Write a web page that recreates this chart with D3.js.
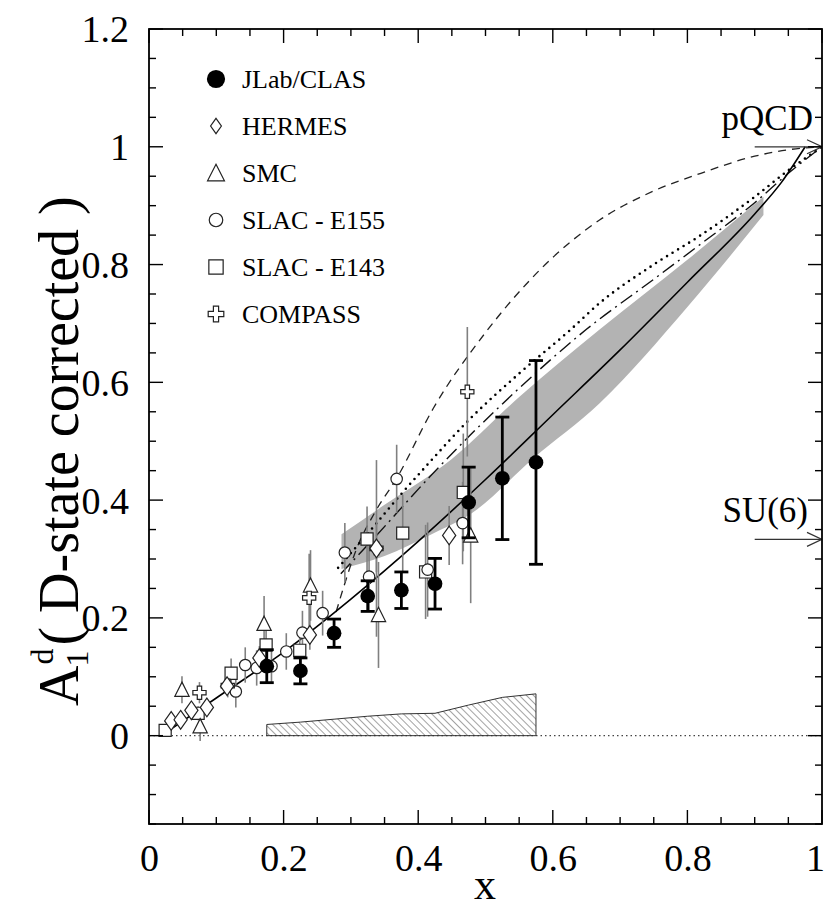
<!DOCTYPE html>
<html>
<head>
<meta charset="utf-8">
<script src="https://cdn.jsdelivr.net/npm/d3@7/dist/d3.min.js"></script>
<style>
  html, body { margin: 0; padding: 0; background: #fff; }
  svg text { font-family: "Liberation Serif", "DejaVu Serif", serif; fill: #000; }
</style>
</head>
<body>
<svg id="chart" width="826" height="912"></svg>
<script>
// ---- Data ----
// JLab/CLAS deuteron asymmetry (statistical errors and systematic band)
const clasX   = [0.175, 0.225, 0.275, 0.325, 0.375, 0.425, 0.475, 0.525, 0.575];
const clasY   = [0.118, 0.110, 0.174, 0.237, 0.247, 0.258, 0.396, 0.437, 0.464];
const clasErr = [0.028, 0.022, 0.024, 0.026, 0.031, 0.043, 0.060, 0.104, 0.173];
const clasSys = [0.019, 0.023, 0.028, 0.033, 0.037, 0.038, 0.052, 0.065, 0.071];

// World data
const hermesX   = [0.033, 0.047, 0.063, 0.086, 0.116, 0.164, 0.239, 0.338, 0.446];
const hermesY   = [0.025, 0.027, 0.043, 0.048, 0.084, 0.132, 0.171, 0.318, 0.340];
const hermesErr = [0.010, 0.010, 0.010, 0.012, 0.015, 0.020, 0.025, 0.040, 0.050];

const smcX   = [0.049, 0.076, 0.171, 0.240, 0.341, 0.478];
const smcY   = [0.078, 0.016, 0.190, 0.255, 0.205, 0.340];
const smcErr = [0.023, 0.025, 0.047, 0.060, 0.090, 0.115];

const e155X   = [0.129, 0.143, 0.160, 0.182, 0.204, 0.228, 0.258, 0.291, 0.327, 0.368, 0.414, 0.466];
const e155Y   = [0.075, 0.120, 0.115, 0.118, 0.143, 0.175, 0.208, 0.311, 0.270, 0.436, 0.282, 0.361];
const e155Err = [0.027, 0.030, 0.030, 0.030, 0.031, 0.037, 0.038, 0.050, 0.060, 0.058, 0.080, 0.070];

const e143X   = [0.024, 0.073, 0.122, 0.174, 0.224, 0.324, 0.377, 0.411, 0.467];
const e143Y   = [0.009, 0.038, 0.106, 0.154, 0.145, 0.334, 0.344, 0.278, 0.413];
const e143Err = [0.008, 0.012, 0.025, 0.040, 0.030, 0.055, 0.065, 0.080, 0.100];

const compassX   = [0.075, 0.117, 0.238, 0.338, 0.473];
const compassY   = [0.073, 0.085, 0.234, 0.318, 0.584];
const compassErr = [0.018, 0.020, 0.075, 0.150, 0.110];

// Fit to the data and its error band
const fitX = [0.025, 0.1, 0.2, 0.3, 0.4, 0.5, 0.6, 0.7, 0.8, 0.9, 0.94, 0.975];
const fitY = [0.005, 0.064, 0.142, 0.232, 0.33, 0.435, 0.545, 0.655, 0.77, 0.886, 0.94, 1.0];
const bandUpX = [0.286, 0.35, 0.45, 0.55, 0.67, 0.8, 0.913];
const bandUpY = [0.342, 0.392, 0.47, 0.575, 0.69, 0.808, 0.915];
const bandLoX = [0.286, 0.35, 0.42, 0.48, 0.57, 0.67, 0.8, 0.913];
const bandLoY = [0.283, 0.305, 0.342, 0.378, 0.47, 0.565, 0.728, 0.884];

// Model curves
const dashedX = [0.278, 0.29, 0.308, 0.335, 0.368, 0.4225, 0.499, 0.58, 0.67, 0.75, 0.82, 0.9, 0.95, 1.0];
const dashedY = [0.21, 0.255, 0.316, 0.378, 0.437, 0.556, 0.683, 0.79, 0.876, 0.925, 0.955, 0.984, 0.995, 1.0];
const dottedX = [0.281, 0.33, 0.373, 0.4175, 0.477, 0.55, 0.625, 0.67, 0.75, 0.82, 0.9, 0.95, 1.0];
const dottedY = [0.285, 0.35, 0.408, 0.465, 0.538, 0.615, 0.688, 0.735, 0.80, 0.85, 0.915, 0.96, 1.0];
const dashDotX = [0.285, 0.33, 0.4175, 0.477, 0.55, 0.65, 0.75, 0.82, 0.9, 0.95, 1.0];
const dashDotY = [0.275, 0.33, 0.44, 0.51, 0.59, 0.69, 0.775, 0.835, 0.905, 0.955, 1.0];

// Limits
const pqcdValue = 1.0;
const su6Value = 1 / 3;

// Axis ticks
const xTickLabels = ["0", "0.2", "0.4", "0.6", "0.8", "1"];
const xTickValues = [0, 0.2, 0.4, 0.6, 0.8, 1.0];
const yTickLabels = ["0", "0.2", "0.4", "0.6", "0.8", "1", "1.2"];
const yTickValues = [0, 0.2, 0.4, 0.6, 0.8, 1.0, 1.2];

// Legend
const legendNames = ["JLab/CLAS", "HERMES", "SMC", "SLAC - E155", "SLAC - E143", "COMPASS"];
const legendShapes = ["filled", "diamond", "triangle", "circle", "square", "cross"];

// ---- Layout ----
const svg = d3.select("#chart");
const plot = { left: 149, right: 822, top: 29, bottom: 824 };

const x = d3.scaleLinear().domain([0, 1]).range([plot.left, plot.right]);
const y = d3.scaleLinear().domain([-0.15, 1.2]).range([plot.bottom, plot.top]);

const zip = (xs, ys) => xs.map((v, i) => [v, ys[i]]);

// Hatch pattern for the systematic uncertainty
const defs = svg.append("defs");
defs.append("pattern")
  .attr("id", "hatch")
  .attr("patternUnits", "userSpaceOnUse")
  .attr("width", 5).attr("height", 5)
  .attr("patternTransform", "rotate(-45)")
  .append("line")
  .attr("x1", 0).attr("y1", 0).attr("x2", 0).attr("y2", 5)
  .attr("stroke", "#333").attr("stroke-width", 0.9);

defs.append("clipPath").attr("id", "plotClip")
  .append("rect")
  .attr("x", plot.left).attr("y", plot.top)
  .attr("width", plot.right - plot.left).attr("height", plot.bottom - plot.top);

const g = svg.append("g").attr("clip-path", "url(#plotClip)");

// Zero line
g.append("line")
  .attr("x1", x(0)).attr("x2", x(1)).attr("y1", y(0)).attr("y2", y(0))
  .attr("stroke", "#444").attr("stroke-width", 1.2).attr("stroke-dasharray", "1.5,3");

// Systematic band
const sysArea = d3.area().x(d => x(d[0])).y0(y(0)).y1(d => y(d[1]));
g.append("path")
  .datum(zip(clasX, clasSys))
  .attr("d", sysArea)
  .attr("fill", "url(#hatch)")
  .attr("stroke", "#333").attr("stroke-width", 1);

// Fit error band
const upper = zip(bandUpX, bandUpY);
const lower = zip(bandLoX, bandLoY).reverse();
const lineGen = d3.line().x(d => x(d[0])).y(d => y(d[1])).curve(d3.curveMonotoneX);
const bandPath = lineGen(upper) + "L" + lineGen(lower).slice(1) + "Z";
g.append("path").attr("d", bandPath).attr("fill", "#b3b3b3").attr("stroke", "none");

// Model curves
g.append("path").datum(zip(dashedX, dashedY)).attr("d", lineGen)
  .attr("fill", "none").attr("stroke", "#222").attr("stroke-width", 1.3)
  .attr("stroke-dasharray", "8,6");
g.append("path").datum(zip(dottedX, dottedY)).attr("d", lineGen)
  .attr("fill", "none").attr("stroke", "#000").attr("stroke-width", 2.6)
  .attr("stroke-linecap", "round").attr("stroke-dasharray", "0,6.5");
g.append("path").datum(zip(dashDotX, dashDotY)).attr("d", lineGen)
  .attr("fill", "none").attr("stroke", "#111").attr("stroke-width", 1.4)
  .attr("stroke-dasharray", "14,5,2,5");
g.append("path").datum(zip(fitX, fitY)).attr("d", lineGen)
  .attr("fill", "none").attr("stroke", "#000").attr("stroke-width", 1.6);

// Limit arrows
function limitArrow(val) {
  const yy = y(val);
  g.append("line").attr("x1", x(0.9)).attr("x2", x(1)).attr("y1", yy).attr("y2", yy)
    .attr("stroke", "#333").attr("stroke-width", 1.2);
  g.append("path")
    .attr("d", `M${x(1) - 15},${yy - 7}L${x(1)},${yy}L${x(1) - 15},${yy + 7}`)
    .attr("fill", "none").attr("stroke", "#333").attr("stroke-width", 1.2);
}
limitArrow(pqcdValue);
limitArrow(su6Value);

// Marker shapes
function markerPath(shape, s) {
  switch (shape) {
    case "diamond": {
      const w = s * 0.6, h = s * 0.85;
      return `M0,${-h}L${w},0L0,${h}L${-w},0Z`;
    }
    case "triangle": {
      const w = s * 0.65, h = s * 0.6;
      return `M0,${-h - 1}L${w},${h}L${-w},${h}Z`;
    }
    case "square": {
      const a = s * 0.55;
      return `M${-a},${-a}L${a},${-a}L${a},${a}L${-a},${a}Z`;
    }
    case "cross": {
      const a = s * 0.6, b = s * 0.2;
      return `M${-b},${-a}L${b},${-a}L${b},${-b}L${a},${-b}L${a},${b}L${b},${b}L${b},${a}L${-b},${a}L${-b},${b}L${-a},${b}L${-a},${-b}L${-b},${-b}Z`;
    }
  }
  return null;
}

function drawMarker(sel, shape, cx, cy, s) {
  if (shape === "filled") {
    sel.append("circle").attr("cx", cx).attr("cy", cy).attr("r", s * 0.7).attr("fill", "#000");
  } else if (shape === "circle") {
    sel.append("circle").attr("cx", cx).attr("cy", cy).attr("r", s * 0.52)
      .attr("fill", "#fff").attr("stroke", "#222").attr("stroke-width", 1.2);
  } else {
    sel.append("path").attr("d", markerPath(shape, s))
      .attr("transform", `translate(${cx},${cy})`)
      .attr("fill", "#fff").attr("stroke", "#222").attr("stroke-width", 1.2);
  }
}

// World data sets (open markers, thin grey error bars)
const worldSets = [
  { xs: e143X, ys: e143Y, es: e143Err, shape: "square" },
  { xs: e155X, ys: e155Y, es: e155Err, shape: "circle" },
  { xs: smcX, ys: smcY, es: smcErr, shape: "triangle" },
  { xs: compassX, ys: compassY, es: compassErr, shape: "cross" },
  { xs: hermesX, ys: hermesY, es: hermesErr, shape: "diamond" }
];

const errLayer = g.append("g");
const markLayer = g.append("g");
worldSets.forEach(set => {
  set.xs.forEach((xv, i) => {
    errLayer.append("line")
      .attr("x1", x(xv)).attr("x2", x(xv))
      .attr("y1", y(set.ys[i] - set.es[i])).attr("y2", y(set.ys[i] + set.es[i]))
      .attr("stroke", "#808080").attr("stroke-width", 1.6);
  });
});
worldSets.forEach(set => {
  set.xs.forEach((xv, i) => drawMarker(markLayer, set.shape, x(xv), y(set.ys[i]), 11));
});

// JLab/CLAS points with capped error bars
const clasLayer = g.append("g");
clasX.forEach((xv, i) => {
  const cx = x(xv);
  const yLo = y(clasY[i] - clasErr[i]), yHi = y(clasY[i] + clasErr[i]);
  clasLayer.append("line").attr("x1", cx).attr("x2", cx).attr("y1", yLo).attr("y2", yHi)
    .attr("stroke", "#000").attr("stroke-width", 2.8);
  [yLo, yHi].forEach(yy => clasLayer.append("line")
    .attr("x1", cx - 7).attr("x2", cx + 7).attr("y1", yy).attr("y2", yy)
    .attr("stroke", "#000").attr("stroke-width", 2.8));
  drawMarker(clasLayer, "filled", cx, y(clasY[i]), 10.5);
});

// Frame and ticks (inward, on all four sides)
svg.append("rect")
  .attr("x", plot.left).attr("y", plot.top)
  .attr("width", plot.right - plot.left).attr("height", plot.bottom - plot.top)
  .attr("fill", "none").attr("stroke", "#000").attr("stroke-width", 1.8);

const xMinor = d3.range(0, 1.0001, 0.05);
const yMinor = d3.range(-0.15, 1.2001, 0.05);
const isMajor = v => Math.abs(v / 0.2 - Math.round(v / 0.2)) < 1e-6;

const ticksG = svg.append("g").attr("stroke", "#000");
xMinor.forEach(v => {
  const L = isMajor(v) ? 14 : 7;
  ticksG.append("line").attr("x1", x(v)).attr("x2", x(v)).attr("y1", plot.bottom).attr("y2", plot.bottom - L).attr("stroke-width", 1.4);
  ticksG.append("line").attr("x1", x(v)).attr("x2", x(v)).attr("y1", plot.top).attr("y2", plot.top + L).attr("stroke-width", 1.4);
});
yMinor.forEach(v => {
  const L = isMajor(v) ? 14 : 7;
  ticksG.append("line").attr("y1", y(v)).attr("y2", y(v)).attr("x1", plot.left).attr("x2", plot.left + L).attr("stroke-width", 1.4);
  ticksG.append("line").attr("y1", y(v)).attr("y2", y(v)).attr("x1", plot.right).attr("x2", plot.right - L).attr("stroke-width", 1.4);
});

// Tick labels via d3 axes (domain and tick lines hidden)
const xAxis = d3.axisBottom(x).tickValues(xTickValues).tickFormat((d, i) => xTickLabels[i]).tickSize(0).tickPadding(0);
const xAxisG = svg.append("g").attr("transform", `translate(0,${plot.bottom + 20})`).call(xAxis);
xAxisG.select(".domain").remove();
xAxisG.selectAll("text").attr("font-size", 38).attr("font-family", "Liberation Serif").attr("dy", "0.71em");
// keep the last label inside the page edge
xAxisG.selectAll("text").filter((d, i) => i === xTickValues.length - 1).attr("dx", -7);

const yAxis = d3.axisLeft(y).tickValues(yTickValues).tickFormat((d, i) => yTickLabels[i]).tickSize(0).tickPadding(0);
const yAxisG = svg.append("g").attr("transform", `translate(${plot.left - 20},0)`).call(yAxis);
yAxisG.select(".domain").remove();
yAxisG.selectAll("text").attr("font-size", 38).attr("font-family", "Liberation Serif").attr("dy", "0.34em");

// Axis titles
svg.append("text").attr("x", 485).attr("y", 899).attr("text-anchor", "middle")
  .attr("font-size", 44).text("x");

const yt = svg.append("g").attr("transform", "translate(78,706) rotate(-90)");
const tA = yt.append("text").attr("x", 0).attr("y", 0).attr("font-size", 56).text("A");
const wA = tA.node().getComputedTextLength();
yt.append("text").attr("x", wA - 1).attr("y", 10).attr("font-size", 32).text("1");
yt.append("text").attr("x", wA + 1).attr("y", -25).attr("font-size", 32).text("d");
yt.append("text").attr("x", wA + 20).attr("y", 0).attr("font-size", 56).text("( D-state corrected )");

// Limit labels
svg.append("text").attr("x", 813).attr("y", 130).attr("text-anchor", "end").attr("font-size", 35).text("pQCD");
svg.append("text").attr("x", 808).attr("y", 522).attr("text-anchor", "end").attr("font-size", 35).text("SU(6)");

// Legend
const leg = svg.append("g");
legendNames.forEach((name, i) => {
  const ly = 79 + i * 47;
  const sz = legendShapes[i] === "diamond" ? 9 : 13;
  drawMarker(leg, legendShapes[i], 216, ly, sz);
  leg.append("text").attr("x", 242).attr("y", ly).attr("dy", "0.35em")
    .attr("font-size", 26).text(name);
});
</script>
</body>
</html>
